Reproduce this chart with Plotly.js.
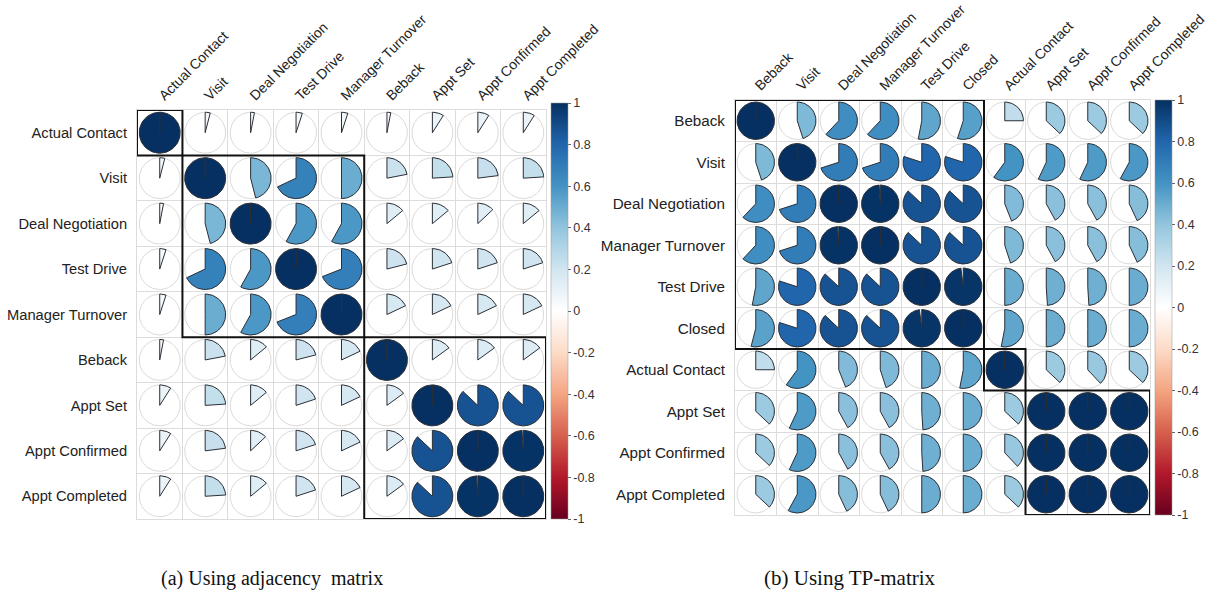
<!DOCTYPE html>
<html>
<head>
<meta charset="utf-8">
<script src="https://cdn.plot.ly/plotly-3.0.1.min.js"></script>
<style>html,body{margin:0;padding:0;background:#fff;}#chart{width:1221px;height:599px;}</style>
</head>
<body>
<div id="chart"></div>
<script>
// ---------- DATA ----------
const leftLabels = ['Actual Contact','Visit','Deal Negotiation','Test Drive','Manager Turnover','Beback','Appt Set','Appt Confirmed','Appt Completed'];
const leftCorr = [
  [1.00,0.04,0.03,0.05,0.05,0.03,0.09,0.09,0.09],
  [0.04,1.00,0.46,0.68,0.50,0.22,0.24,0.23,0.24],
  [0.03,0.46,1.00,0.58,0.58,0.14,0.14,0.13,0.14],
  [0.05,0.68,0.58,1.00,0.69,0.21,0.20,0.20,0.20],
  [0.05,0.50,0.58,0.69,1.00,0.18,0.18,0.18,0.18],
  [0.03,0.22,0.14,0.21,0.18,1.00,0.15,0.15,0.15],
  [0.09,0.24,0.14,0.20,0.18,0.15,1.00,0.87,0.87],
  [0.09,0.23,0.13,0.20,0.18,0.15,0.87,1.00,0.99],
  [0.09,0.24,0.14,0.20,0.18,0.15,0.87,0.99,1.00]
];
const leftGroups = [1,4,4];

const rightLabels = ['Beback','Visit','Deal Negotiation','Manager Turnover','Test Drive','Closed','Actual Contact','Appt Set','Appt Confirmed','Appt Completed'];
const rightCorr = [
  [1.00,0.45,0.62,0.62,0.53,0.55,0.25,0.37,0.37,0.37],
  [0.45,1.00,0.70,0.70,0.80,0.80,0.60,0.57,0.57,0.58],
  [0.62,0.70,1.00,0.99,0.87,0.87,0.44,0.42,0.42,0.43],
  [0.62,0.70,0.99,1.00,0.87,0.87,0.45,0.42,0.42,0.43],
  [0.53,0.80,0.87,0.87,1.00,0.98,0.50,0.49,0.49,0.50],
  [0.54,0.80,0.87,0.87,0.98,1.00,0.53,0.50,0.50,0.50],
  [0.25,0.60,0.44,0.45,0.50,0.53,1.00,0.37,0.38,0.37],
  [0.37,0.57,0.42,0.42,0.49,0.50,0.37,1.00,1.00,1.00],
  [0.37,0.57,0.42,0.42,0.49,0.50,0.38,1.00,1.00,1.00],
  [0.37,0.58,0.43,0.43,0.50,0.50,0.37,1.00,1.00,1.00]
];
const rightGroups = [6,1,3];

const cbTickVals = [1,0.8,0.6,0.4,0.2,0,-0.2,-0.4,-0.6,-0.8,-1];
const cbTickText = ['1','0.8','0.6','0.4','0.2','0','-0.2','-0.4','-0.6','-0.8','-1'];
const captions = ['(a) Using adjacency\u00a0 matrix','(b) Using TP-matrix'];

// ---------- STYLE ----------
const RdBu = ['#67001F','#B2182B','#D6604D','#F4A582','#FDDBC7','#FFFFFF','#D1E5F0','#92C5DE','#4393C3','#2166AC','#053061'];
const colorscale = RdBu.map((c,i)=>[i/(RdBu.length-1), c]);
function hex2rgb(h){return [parseInt(h.substr(1,2),16),parseInt(h.substr(3,2),16),parseInt(h.substr(5,2),16)];}
function colorFor(v){
  const t = (v+1)/2*(RdBu.length-1);
  const i = Math.min(Math.floor(t), RdBu.length-2);
  const f = t-i;
  const a = hex2rgb(RdBu[i]), b = hex2rgb(RdBu[i+1]);
  const c = a.map((x,k)=>Math.round(x+(b[k]-x)*f));
  return 'rgb('+c.join(',')+')';
}
const R = 0.45;
const font = 'Liberation Sans, Arial, sans-serif';

const traces = [];
function buildMatrix(labels, corr, xa, ya, groups){
  const n = labels.length;
  const cx=[], cy=[];
  for(let i=0;i<n;i++) for(let j=0;j<n;j++){
    for(let k=0;k<=72;k++){const a=2*Math.PI*k/72; cx.push(j+1+R*Math.sin(a)); cy.push(i+1-R*Math.cos(a));}
    cx.push(null); cy.push(null);
  }
  traces.push({type:'scatter',mode:'lines',x:cx,y:cy,xaxis:xa,yaxis:ya,line:{color:'#dadada',width:1},hoverinfo:'skip'});
  for(let i=0;i<n;i++) for(let j=0;j<n;j++){
    const v = corr[i][j];
    const frac = Math.abs(v);
    const steps = Math.max(2, Math.ceil(72*frac));
    const px=[j+1], py=[i+1];
    for(let k=0;k<=steps;k++){
      const a = 2*Math.PI*frac*k/steps*(v>=0?1:-1);
      px.push(j+1+R*Math.sin(a)); py.push(i+1-R*Math.cos(a));
    }
    px.push(j+1); py.push(i+1);
    traces.push({type:'scatter',mode:'lines',x:px,y:py,xaxis:xa,yaxis:ya,fill:'toself',
      fillcolor:colorFor(v),line:{color:'#2b2f36',width:1},hoverinfo:'skip'});
  }
  let s=0;
  for(const g of groups){
    const a=s+0.5, b=s+g+0.5;
    traces.push({type:'scatter',mode:'lines',x:[a,b,b,a,a],y:[a,a,b,b,a],xaxis:xa,yaxis:ya,
      line:{color:'#111',width:2},hoverinfo:'skip'});
    s+=g;
  }
}
buildMatrix(leftLabels,leftCorr,'x','y',leftGroups);
buildMatrix(rightLabels,rightCorr,'x2','y2',rightGroups);

function cbTrace(xa,ya,xpos,ypos,lenPx){
  return {type:'scatter',mode:'markers',x:[1,1],y:[1,1],xaxis:xa,yaxis:ya,hoverinfo:'skip',
    marker:{size:1,opacity:0,color:[-1,1],cmin:-1,cmax:1,colorscale:colorscale,showscale:true,
      colorbar:{x:xpos,xanchor:'left',y:ypos,yanchor:'middle',len:lenPx,lenmode:'pixels',thickness:17,
        tickvals:cbTickVals,ticktext:cbTickText,ticks:'outside',ticklen:3,tickcolor:'#666',
        tickfont:{family:font,size:12.5,color:'#333'},outlinewidth:0.5,outlinecolor:'#999',xpad:0,ypad:0}}};
}
traces.push(cbTrace('x','y',551/1221,1-311/599,416));
traces.push(cbTrace('x2','y2',1155/1221,1-307.5/599,415));

function xAxis(labels, dom, anchor, fs){
  const n=labels.length;
  return {domain:dom,anchor:anchor,range:[0.5,n+0.5],side:'top',tickangle:-45,
    tickmode:'array',tickvals:labels.map((_,i)=>i+1),ticktext:labels,
    tickfont:{family:font,size:fs,color:'#222'},showgrid:false,zeroline:false,
    showline:true,mirror:true,linecolor:'#dcdcdc',linewidth:1,ticks:'',ticklabelstandoff:0,
    minor:{tickvals:Array.from({length:n+1},(_,i)=>i+0.5),showgrid:true,gridcolor:'#dcdcdc',gridwidth:1,ticks:''},
    fixedrange:true};
}
function yAxis(labels, dom, anchor, fs){
  const n=labels.length;
  return {domain:dom,anchor:anchor,range:[n+0.5,0.5],
    tickmode:'array',tickvals:labels.map((_,i)=>i+1),ticktext:labels,
    tickfont:{family:font,size:fs,color:'#222'},showgrid:false,zeroline:false,
    showline:true,mirror:true,linecolor:'#dcdcdc',linewidth:1,ticks:'',ticklabelstandoff:6,
    minor:{tickvals:Array.from({length:n+1},(_,i)=>i+0.5),showgrid:true,gridcolor:'#dcdcdc',gridwidth:1,ticks:''},
    fixedrange:true};
}

const layout = {
  width:1221,height:599,margin:{l:0,r:0,t:0,b:0},showlegend:false,
  paper_bgcolor:'#fff',plot_bgcolor:'#fff',
  xaxis:xAxis(leftLabels,[137/1221,546/1221],'y',14),
  yaxis:yAxis(leftLabels,[1-519/599,1-110/599],'x',14.7),
  xaxis2:xAxis(rightLabels,[735/1221,1150/1221],'y2',14),
  yaxis2:yAxis(rightLabels,[1-515/599,1-100/599],'x2',15.2),
  annotations:[
    {xref:'paper',yref:'paper',x:272/1221,y:1-578/599,text:captions[0],showarrow:false,xanchor:'center',yanchor:'middle',
     font:{family:'Liberation Serif, Times New Roman, serif',size:20,color:'#111'}},
    {xref:'paper',yref:'paper',x:850/1221,y:1-578/599,text:captions[1],showarrow:false,xanchor:'center',yanchor:'middle',
     font:{family:'Liberation Serif, Times New Roman, serif',size:21,color:'#111'}}
  ]
};
Plotly.newPlot('chart',traces,layout,{displayModeBar:false,staticPlot:true});
</script>
</body>
</html>
